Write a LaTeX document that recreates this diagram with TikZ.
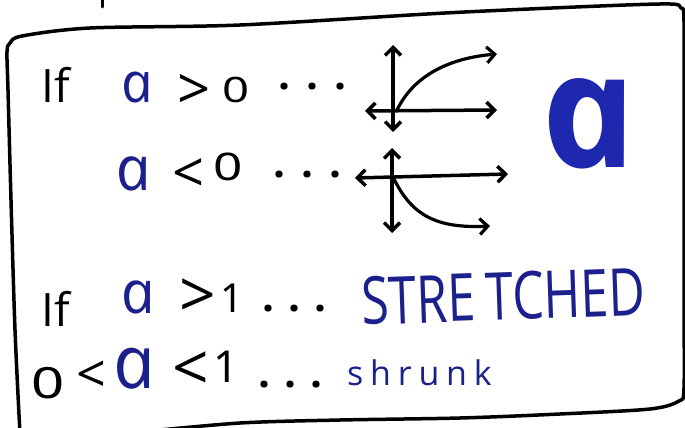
\documentclass[tikz,border=0pt]{standalone}
\usepackage{fontspec}
\setmainfont{Open Sans}
\newfontfamily\tallcaps[FakeStretch=0.76]{Open Sans}
\newfontfamily\spaced[LetterSpace=20]{Open Sans}
\newfontfamily\roundfig[FakeStretch=1.35]{Noto Sans}
\newfontfamily\plainfig{Noto Sans}
\newfontfamily\handa[FakeSlant=-0.21]{Open Sans Italic}
\newfontfamily\markera[FakeSlant=-0.21]{Open Sans Bold Italic}
\usetikzlibrary{arrows.meta}
\definecolor{penblue}{RGB}{28,32,140}
\definecolor{markerblue}{RGB}{30,40,175}
\newcommand{\hsz}[1]{\fontsize{#1}{#1}\selectfont}
\tikzset{
    word/.style={anchor=base west, inner sep=0pt, text=black, font=\hsz{#1}},
    word/.default=40,
    digit/.style={anchor=base west, inner sep=0pt, text=black, font=\roundfig\hsz{#1}},
    unit/.style={anchor=base west, inner sep=0pt, text=black, font=\plainfig\hsz{#1}},
    dotrow/.style={anchor=base west, inner sep=0pt, text=black, font=\bfseries\hsz{42}},
    varia/.style={anchor=base west, inner sep=0pt, text=penblue, font=\handa\hsz{#1}},
    bigvar/.style={anchor=base west, inner sep=0pt, text=markerblue, font=\markera\hsz{160}},
    frame/.style={line width=3.5pt, line join=round, line cap=round},
    axis/.style={line width=3.5pt, line cap=round, {Straight Barb[length=8pt,width=16pt]}-{Straight Barb[length=8pt,width=16pt]}},
    curveline/.style={line width=3.2pt, line cap=round, -{Straight Barb[length=8pt,width=16pt]}}
}

\begin{document}
\begin{tikzpicture}[x=1pt, y=-1pt]
        \useasboundingbox (0,0) rectangle (685,428);

        % -----------------------------------------------------------------
        % CORNICE
        % -----------------------------------------------------------------
        \draw[frame] plot[smooth, tension=0.5] coordinates {(20,434) (15,330) (11,200) (8,90) (7,52) (10,43) (22,36) (90,28) (240,25) (445,13) (600,6) (670,4) (681,8) (684,22) (684,150) (684,300) (684,388) (679,401) (650,409) (560,414) (460,418) (340,420) (240,423) (140,432)};
        \draw[frame, line width=3pt] (102,-2) -- (102,7);

        % -----------------------------------------------------------------
        % a > 0  e  a < 0
        % -----------------------------------------------------------------
        \node[word=46] (if1) at (41,102) {If};
        \node[varia=56] (a1) at (124,102) {a};
        \node[word=58] (gt1) at (177,109) {>};
        \node[digit=35] (zero1) at (222,102) {0};
        \node[dotrow] (dots1) at (278,89) {.\hspace{16pt}.\hspace{16pt}.};

        \node[varia=62] (a2) at (119,190) {a};
        \node[word=56] (lt2) at (172,192) {<};
        \node[digit=38] (zero2) at (213,180) {0};
        \node[dotrow] (dots2) at (273,177) {.\hspace{16pt}.\hspace{16pt}.};

        % grafico per a > 0
        \coordinate (up1) at (393,45);
        \coordinate (dn1) at (393,132);
        \coordinate (lf1) at (365,111);
        \coordinate (rt1) at (497,110);
        \draw[axis] (dn1) -- (up1);
        \draw[axis] (lf1) -- (rt1);
        \draw[curveline] (397,110) .. controls (414,75) and (450,58) .. (497,54);

        % grafico per a < 0
        \coordinate (up2) at (392,148);
        \coordinate (dn2) at (392,233);
        \coordinate (lf2) at (355,178);
        \coordinate (rt2) at (508,174);
        \draw[axis] (dn2) -- (up2);
        \draw[axis] (lf2) -- (rt2);
        \draw[curveline] (393,177) .. controls (410,212) and (432,229) .. (490,226);

        \node[bigvar] (abig) at (550,167) {a};

        % -----------------------------------------------------------------
        % a > 1  e  0 < a < 1
        % -----------------------------------------------------------------
        \node[word=46] (if2) at (41,326) {If};
        \node[varia=60] (a3) at (124,313) {a};
        \node[word=64] (gt3) at (179,317) {>};
        \node[unit=40] (one3) at (220,312) {1};
        \node[dotrow] (dots3) at (262,311) {.\hspace{14pt}.\hspace{14pt}.};
        \node[word, text=penblue, font=\tallcaps\hsz{66}, rotate=2] (stretched) at (362,325) {STRE\hspace{10pt}TCHED};

        \node[digit=43] (zero4) at (31,398) {0};
        \node[word=52] (lt4a) at (76,392) {<};
        \node[varia=74] (a4) at (117,388) {a};
        \node[word=64] (lt4b) at (172,390) {<};
        \node[unit=44] (one4) at (213,382) {1};
        \node[dotrow] (dots4) at (258,387) {.\hspace{14pt}.\hspace{14pt}.};
        \node[word, text=penblue, font=\spaced\hsz{34}] (shrunk) at (347,385) {shrunk};

    \end{tikzpicture}
\end{document}
